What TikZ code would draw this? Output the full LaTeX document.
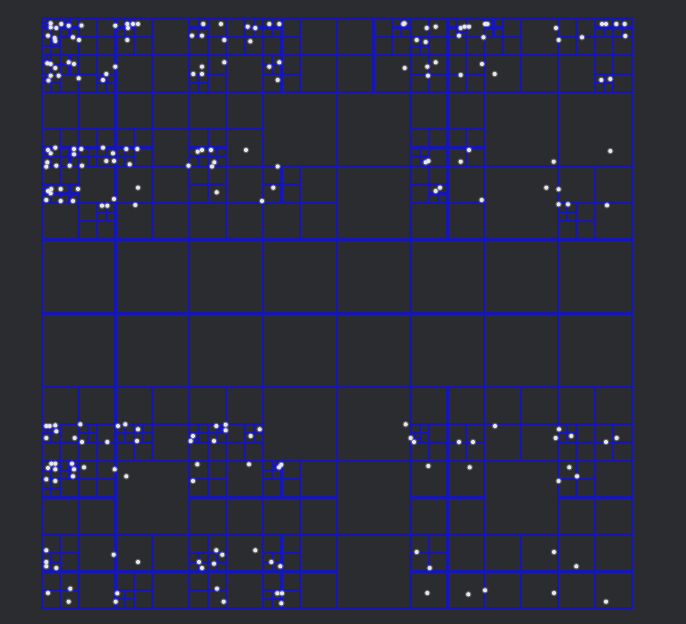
\documentclass[tikz,border=0pt]{standalone}
\definecolor{bgcol}{RGB}{42,44,48}
\definecolor{qcol}{RGB}{22,22,180}
\definecolor{dotcol}{RGB}{232,232,232}
\tikzset{
  qtline/.style={draw=qcol,line width=2.4pt},
  qtdot/.style={fill=dotcol},
  qthalo/.style={fill=dotcol,opacity=0.28}
}
\newcount\qtcnt
\def\qtPoints{%
% top band, block 1
\qtp{50.7}{23.3}\qtp{50.7}{27.3}\qtp{56.3}{28}\qtp{61.3}{24}\qtp{68.7}{25.7}\qtp{81.5}{25.5}%
\qtp{48}{35.7}\qtp{54.7}{38}\qtp{55.3}{41}\qtp{73}{37.3}\qtp{79}{40}%
\qtp{115.3}{25.7}\qtp{127.3}{24}\qtp{128}{28}\qtp{133}{24}\qtp{138}{24}\qtp{127.3}{40}%
\qtp{47.3}{63.3}\qtp{50.7}{64}\qtp{55.3}{68}\qtp{68.7}{62.3}\qtp{74}{64}\qtp{115.3}{66.7}%
\qtp{50.7}{75.7}\qtp{58.7}{75.7}\qtp{48.5}{80.5}\qtp{78.7}{78.3}\qtp{106.3}{74}\qtp{103}{80}%
% top band, block 2
\qtp{203.3}{24}\qtp{221}{24}\qtp{247.7}{26.7}\qtp{255.3}{28}\qtp{269.3}{24}\qtp{279.3}{24}%
\qtp{192}{35.7}\qtp{202}{35.7}\qtp{224.3}{40}\qtp{250.3}{41.3}\qtp{202}{66.7}\qtp{224.3}{62.3}%
\qtp{193.3}{74}\qtp{202}{74}\qtp{269.3}{66.7}\qtp{279.3}{62.3}\qtp{277.7}{80}%
% top band, block 3
\qtp{403.3}{24}\qtp{404.6}{23.4}\qtp{426.7}{28}\qtp{435.7}{26.7}\qtp{460.7}{28}\qtp{464.7}{26.7}\qtp{469}{26.7}%
\qtp{485}{24}\qtp{487.5}{24}\qtp{459}{35.7}\qtp{483.5}{37.3}\qtp{416.7}{40}\qtp{425.7}{42}%
\qtp{404.7}{68}\qtp{427.3}{66.7}\qtp{435.7}{62.3}\qtp{428}{75.7}\qtp{460.7}{75}\qtp{482}{64}%
% top band, block 4
\qtp{556}{28}\qtp{602}{24}\qtp{606}{24}\qtp{616.3}{24}\qtp{624.7}{24}\qtp{625.3}{36}%
\qtp{558.7}{40}\qtp{582}{37.3}\qtp{494.7}{74}\qtp{601.3}{80}\qtp{610.3}{79}%
% second band, block 1
\qtp{48}{150}\qtp{50.7}{153.3}\qtp{55.3}{147.7}\qtp{74}{149}\qtp{74}{154.3}\qtp{81.3}{149}%
\qtp{103}{147.7}\qtp{113}{153.3}\qtp{126.3}{149}\qtp{137.3}{149}\qtp{47.3}{162.3}\qtp{46.3}{166.7}%
\qtp{56.3}{165.7}\qtp{69.7}{165.7}\qtp{82}{165.7}\qtp{106.3}{161}\qtp{114}{161}\qtp{129.7}{164.3}%
\qtp{188.5}{165.7}\qtp{51.3}{189}\qtp{48}{191}\qtp{50.7}{193.3}\qtp{60.7}{189}\qtp{78}{189}%
\qtp{138}{187.7}\qtp{46.3}{200}\qtp{60.7}{201}\qtp{73}{201}\qtp{114}{199}\qtp{102}{205.7}%
\qtp{107.3}{205.7}\qtp{135.3}{205}%
% second band, block 2
\qtp{197.7}{151.7}\qtp{202}{150}\qtp{211}{150}\qtp{246}{150}\qtp{212}{166.5}\qtp{214.3}{162.3}%
\qtp{216.7}{192.3}\qtp{277.7}{166.5}\qtp{273.3}{187.7}\qtp{262}{201}%
% second band, blocks 3-4
\qtp{469}{150}\qtp{460.7}{161.7}\qtp{425.7}{162.3}\qtp{428.5}{161}\qtp{435.7}{191}\qtp{440}{187.7}%
\qtp{481.7}{200}\qtp{610.3}{151}\qtp{553.7}{161.7}\qtp{546.3}{187.7}\qtp{558.6}{189.3}%
\qtp{558.6}{204.3}\qtp{568}{204.3}\qtp{607}{205.3}%
% lower band, left half
\qtp{46.3}{426}\qtp{49.7}{426}\qtp{55.3}{425.3}\qtp{56.3}{431.3}\qtp{46.3}{438}\qtp{80.3}{424.3}%
\qtp{74.7}{438}\qtp{82}{442}\qtp{107.3}{442}\qtp{118}{426}\qtp{125.3}{424.3}\qtp{138}{429.3}%
\qtp{137}{441}\qtp{193}{436}\qtp{190.7}{441}\qtp{216.3}{426}\qtp{225.7}{424.7}\qtp{225.7}{430.3}%
\qtp{214}{441}\qtp{250.7}{436}\qtp{259.7}{429.3}%
\qtp{48}{468}\qtp{51.3}{463.7}\qtp{55.3}{463.7}\qtp{55.3}{469.3}\qtp{72}{463.7}\qtp{74}{469.3}%
\qtp{84}{467.3}\qtp{73}{476.3}\qtp{46.3}{479.3}\qtp{55.3}{481}\qtp{114.7}{469.3}\qtp{126.3}{476.3}%
\qtp{197.3}{464.3}\qtp{193}{481}\qtp{249}{464.3}\qtp{279}{467.3}\qtp{281.3}{464.7}%
\qtp{46.3}{550.3}\qtp{46.3}{562}\qtp{46.3}{566.3}\qtp{56.3}{568}\qtp{113.7}{554.7}\qtp{138}{562}%
\qtp{216.3}{550.3}\qtp{222.3}{554.7}\qtp{199}{562}\qtp{214}{563.7}\qtp{202}{568}\qtp{255.3}{550.3}%
\qtp{271.3}{562}\qtp{280.3}{566.3}%
\qtp{48}{593}\qtp{70.3}{588.7}\qtp{68.7}{601.7}\qtp{117.3}{593.3}\qtp{115.7}{601.7}\qtp{217}{588.7}%
\qtp{223.7}{601.7}\qtp{277.3}{593.3}\qtp{282}{593.3}\qtp{281.3}{603.3}%
% lower band, right half
\qtp{405.7}{424.3}\qtp{410.7}{438}\qtp{414}{442}\qtp{459}{442}\qtp{473}{442}\qtp{495}{426}%
\qtp{559}{429.3}\qtp{555.7}{438}\qtp{571.3}{436}\qtp{606}{442}\qtp{616.7}{438}%
\qtp{428.3}{466}\qtp{469.7}{467.3}\qtp{569.3}{467.3}\qtp{577}{476.3}\qtp{558.6}{481}%
\qtp{416.7}{552}\qtp{429.7}{568}\qtp{554}{552}\qtp{576.3}{566.3}%
\qtp{427.3}{593}\qtp{468.3}{594.3}\qtp{485}{590.3}\qtp{554}{593}\qtp{606}{601.7}%
}
\makeatletter
\def\qtCell#1#2#3#4{%
 \begingroup
 \edef\qxa{#1}\edef\qya{#2}%
 \edef\qxb{\strip@pt\dimexpr#1pt+#3pt\relax}%
 \edef\qyb{\strip@pt\dimexpr#2pt+#3pt\relax}%
 \qtcnt=0
 \def\qtp##1##2{%
   \ifdim##1pt<\qxa pt\relax\else
   \ifdim##1pt<\qxb pt\relax
   \ifdim##2pt<\qya pt\relax\else
   \ifdim##2pt<\qyb pt\relax \advance\qtcnt by 1\relax\fi\fi\fi\fi}%
 \qtPoints
 \@tempswafalse
 \ifnum#4<3 \@tempswatrue\fi
 \ifnum\qtcnt>1 \ifnum#4<10 \@tempswatrue\fi\fi
 \if@tempswa
   \edef\qh{\strip@pt\dimexpr#3pt/2\relax}%
   \edef\qxm{\strip@pt\dimexpr#1pt+\qh pt\relax}%
   \edef\qym{\strip@pt\dimexpr#2pt+\qh pt\relax}%
   \edef\qd{\the\numexpr#4+1\relax}%
   \draw[qtline] (\qxm,\qya) -- (\qxm,\qyb);
   \draw[qtline] (\qxa,\qym) -- (\qxb,\qym);
   \edef\qnext{%
     \noexpand\qtCell{\qxa}{\qya}{\qh}{\qd}%
     \noexpand\qtCell{\qxm}{\qya}{\qh}{\qd}%
     \noexpand\qtCell{\qxa}{\qym}{\qh}{\qd}%
     \noexpand\qtCell{\qxm}{\qym}{\qh}{\qd}}%
   \qnext
 \fi
 \endgroup}
\makeatother
\begin{document}
\begin{tikzpicture}[x=1pt,y=-1pt]
  \fill[bgcol] (0,0) rectangle (686,624);
  \useasboundingbox (0,0) rectangle (686,624);
  \qtCell{41.8}{18.4}{589.9}{0}
  \draw[qtline] (41.8,18.4) rectangle (631.7,608.3);
  \def\qtp#1#2{\fill[qthalo] (#1,#2) circle[radius=3.3pt];\fill[qtdot] (#1,#2) circle[radius=2.1pt];}
  \qtPoints
\end{tikzpicture}
\end{document}
